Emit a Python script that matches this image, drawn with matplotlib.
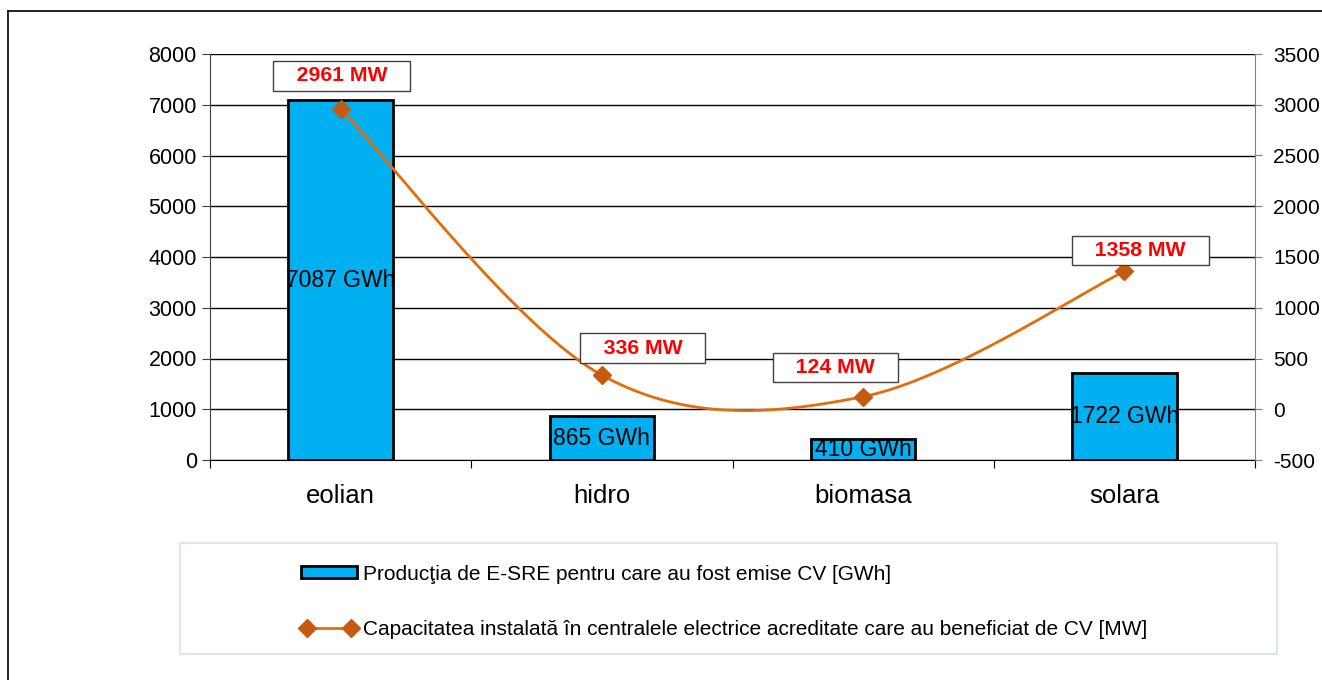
import matplotlib.pyplot as plt
from matplotlib.patches import Rectangle
from matplotlib.lines import Line2D
import numpy as np

plt.rcParams['font.family'] = ['Liberation Sans', 'DejaVu Sans']
plt.rcParams['axes.unicode_minus'] = False

categories = ['eolian', 'hidro', 'biomasa', 'solara']
production_gwh = [7087, 865, 410, 1722]
capacity_mw = [2961, 336, 124, 1358]
bar_labels = ['7087 GWh', '865 GWh', '410 GWh', '1722 GWh']
cap_labels = ['2961 MW', '336 MW', '124 MW', '1358 MW']
label_offsets = [(1, 33), (41, 27), (-28, 29), (16, 21)]  # pixels, box centre vs point

legend_bar = 'Producţia de E-SRE pentru care au fost emise CV [GWh]'
legend_line = 'Capacitatea instalată în centralele electrice acreditate care au beneficiat de CV [MW]'

bar_color = '#00B0F0'
line_color = '#E46C0A'
marker_color = '#C55A11'


def smooth(xs, ys, n=60):
    # excel-style smoothed line: bezier with catmull-rom control points
    px = np.array(xs, dtype=float)
    py = np.array(ys, dtype=float)
    outx, outy = [], []
    for i in range(len(px) - 1):
        p0 = (px[max(i - 1, 0)], py[max(i - 1, 0)])
        p1 = (px[i], py[i])
        p2 = (px[i + 1], py[i + 1])
        p3 = (px[min(i + 2, len(px) - 1)], py[min(i + 2, len(px) - 1)])
        c1 = (p1[0] + (p2[0] - p0[0]) / 6, p1[1] + (p2[1] - p0[1]) / 6)
        c2 = (p2[0] - (p3[0] - p1[0]) / 6, p2[1] - (p3[1] - p1[1]) / 6)
        t = np.linspace(0, 1, n)
        for k in range(2):
            b = ((1 - t) ** 3 * p1[k] + 3 * (1 - t) ** 2 * t * c1[k]
                 + 3 * (1 - t) * t ** 2 * c2[k] + t ** 3 * p2[k])
            (outx if k == 0 else outy).extend(b)
    return outx, outy


W, H = 1322, 680
fig = plt.figure(figsize=(W / 100, H / 100), dpi=100)

# outer chart border (only top and left visible in the crop)
fig.add_artist(Line2D([8 / W, 8 / W], [0, 1 - 11 / H], transform=fig.transFigure, color='black', lw=1.2))
fig.add_artist(Line2D([8 / W, 1], [1 - 11 / H, 1 - 11 / H], transform=fig.transFigure, color='black', lw=1.2))

ax = fig.add_axes([210 / W, 1 - 460 / H, (1255 - 210) / W, (460 - 54) / H])
x = np.arange(len(categories))

bars = ax.bar(x, production_gwh, width=0.4, color=bar_color, edgecolor='black', linewidth=2, zorder=2)
for b, lab in zip(bars, bar_labels):
    t = ax.text(b.get_x() + b.get_width() / 2, b.get_height() / 2, lab,
                ha='center', va='center', fontsize=16.5, zorder=3)
    t.set_clip_path(b)

ax.set_ylim(0, 8000)
ax.set_yticks(range(0, 8001, 1000))
ax.set_xlim(-0.5, len(categories) - 0.5)
ax.set_xticks(np.arange(len(categories) + 1) - 0.5)
ax.set_xticklabels([])
ax.set_xticks(x, minor=True)
ax.set_xticklabels(categories, minor=True, fontsize=18.5)
ax.tick_params(axis='x', which='minor', length=0, pad=17)
ax.tick_params(axis='x', which='major', length=6, direction='out')
ax.tick_params(axis='y', labelsize=15.5, length=6, direction='out', color='#404040')
ax.grid(axis='y', color='black', lw=1)
ax.set_axisbelow(True)
for s in ['top', 'right']:
    ax.spines[s].set_visible(False)
ax.spines['left'].set_color('#404040')

ax2 = ax.twinx()
ax2.set_ylim(-500, 3500)
ax2.set_yticks(range(-500, 3501, 500))
ax2.tick_params(axis='y', labelsize=15, length=5, color='#808080', pad=8)
for s in ['top', 'left', 'bottom']:
    ax2.spines[s].set_visible(False)
ax2.spines['right'].set_color('#808080')

sx, sy = smooth(x, capacity_mw)
ax2.plot(sx, sy, color=line_color, lw=2, zorder=3)
ax2.plot(x, capacity_mw, linestyle='none', marker='D', ms=9, color=marker_color, zorder=4)

for xi, yi, lab, off in zip(x, capacity_mw, cap_labels, label_offsets):
    ax2.annotate('   ' + lab + '   ', (xi, yi), xytext=off, textcoords='offset pixels',
                 ha='center', va='center', fontsize=15.3, fontweight='bold', color='red',
                 bbox=dict(boxstyle='square,pad=0.25', fc='white', ec='#404040', lw=1), zorder=5)

# legend frame
fig.add_artist(Rectangle((180 / W, 1 - 654 / H), (1277 - 180) / W, (654 - 543) / H,
                         transform=fig.transFigure, fill=False, ec='#DCE6F2', lw=1.5))

handles = [Rectangle((0, 0), 1, 1, fc=bar_color, ec='black', lw=2),
           Line2D([], [], color=line_color, lw=2, marker='D', ms=9, mfc=marker_color, mec=marker_color)]
fig.legend(handles, [legend_bar, legend_line], loc='upper left',
           bbox_to_anchor=(282 / W, 1 - 546 / H), frameon=False, fontsize=15,
           handlelength=2.7, handleheight=0.5, numpoints=2, labelspacing=1.74, handletextpad=0.3)

fig.savefig('out.png', dpi=100)
